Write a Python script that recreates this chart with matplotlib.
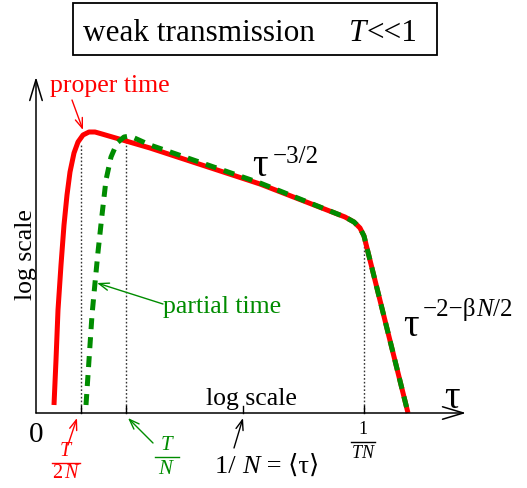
import matplotlib
matplotlib.use("Agg")
import matplotlib.pyplot as plt
from matplotlib.patches import Rectangle

plt.rcParams['font.family'] = ['Liberation Serif', 'DejaVu Serif']
plt.rcParams['mathtext.fontset'] = 'custom'
plt.rcParams['mathtext.rm'] = 'Liberation Serif'
plt.rcParams['mathtext.it'] = 'Liberation Serif:italic'
plt.rcParams['mathtext.bf'] = 'Liberation Serif:bold'

# ---- schematic data (log tau, log P) in drawing units, origin at axes corner ----
proper_x = [18, 20, 22, 25, 28, 31, 34, 38, 42, 47, 53, 59, 66, 114, 224, 309, 318, 324, 328, 372]
proper_y = [8, 53, 103, 148, 188, 218, 241, 260, 271, 278, 281, 281, 279, 265, 229, 196, 191, 185, 177, 0]

partial_x = [50, 53, 56, 59, 62, 66, 70, 75, 81, 88, 94, 114, 224, 309, 318, 324, 328, 372]
partial_y = [8, 53, 98, 130, 161, 198, 233, 256, 270, 276, 277, 268, 230, 196, 191, 185, 177, 0]

# characteristic times on the log-tau axis and the curve height there
tick_names = ['T/2N', 'T/N', '1/N', '1/TN']
tick_pos = [45, 90, 207, 328]
guide_top = [270, 275, None, 175]

RED = '#ff0000'
GREEN = '#008c00'

fig = plt.figure(figsize=(5.27, 4.88), dpi=100)
ax = fig.add_axes([0, 0, 1, 1])
ax.set_xlim(-36, 491)
ax.set_ylim(-75, 413)
ax.axis('off')
renderer = fig.canvas.get_renderer()


def seq(x, y, pieces, fs, color='black'):
    """Place text pieces one after another on a common baseline."""
    cur = x
    for s, style in pieces:
        t = ax.text(cur, y, s, fontsize=fs, style=style, ha='left', va='baseline', color=color)
        bb = t.get_window_extent(renderer)
        cur = ax.transData.inverted().transform((bb.x1, bb.y0))[0]


# title box
ax.add_patch(Rectangle((37, 358), 364, 52, fill=False, lw=1.3, ec='black'))
ax.text(47, 372, 'weak transmission', fontsize=22.5, ha='left', va='baseline')
seq(313, 372, [('T', 'italic'), ('<<1', 'normal')], 22.5)

# axes with arrows
arr_axis = dict(arrowstyle='->,head_length=1.0,head_width=0.3', lw=1.1, color='black',
                shrinkA=0, shrinkB=0, mutation_scale=15)
ax.annotate('', xy=(430, 0), xytext=(0, 0), arrowprops=arr_axis)
ax.annotate('', xy=(0, 336), xytext=(0, 0), arrowprops=arr_axis)

# guide lines and ticks
for p, top in zip(tick_pos, guide_top):
    if top is not None:
        ax.plot([p, p], [0, top], color='#333333', lw=1.0, ls=(0, (1.2, 1.5)))
    ax.plot([p, p], [0, 7], color='black', lw=1.0)

# curves
ax.plot(proper_x, proper_y, color=RED, lw=3.6, solid_joinstyle='round', solid_capstyle='butt')
ax.plot(partial_x, partial_y, color=GREEN, lw=3.6, ls=(0, (2.2, 1.6)), dash_capstyle='butt')

# axis labels
ax.text(215, 8, 'log scale', fontsize=18.5, ha='center', va='baseline')
ax.text(-10, 158, 'log scale', fontsize=18.5, ha='center', va='center', rotation=90)
ax.text(416, 15, 'τ', fontsize=28, ha='center', va='center')
ax.text(0, -22, '0', fontsize=21, ha='center', va='center')

# power laws
ax.text(224, 246, 'τ', fontsize=28, ha='center', va='center')
seq(237, 250, [('−3/2', 'normal')], 18)
ax.text(375, 86, 'τ', fontsize=28, ha='center', va='center')
seq(387, 97, [('−2−β', 'normal'), ('N', 'italic'), ('/2', 'normal')], 18)

# curve names
small_arrow = lambda c: dict(arrowstyle='->,head_length=0.6,head_width=0.22', lw=1.0, color=c,
                             shrinkA=0, shrinkB=0, mutation_scale=12)
ax.text(14, 321, 'proper time', fontsize=18.5, color=RED, ha='left', va='baseline')
ax.annotate('', xy=(47, 283), xytext=(36, 313), arrowprops=small_arrow(RED))
ax.text(127, 100, 'partial time', fontsize=18.5, color=GREEN, ha='left', va='baseline')
ax.annotate('', xy=(61, 130), xytext=(127, 109), arrowprops=small_arrow(GREEN))


# tick labels (fractions)
def frac(xc, num, den, ynum, yline, yden, half, color, fs):
    ax.text(xc, ynum, num, fontsize=fs, color=color, ha='center', va='center')
    ax.plot([xc - half, xc + half], [yline, yline], color=color, lw=1.0)
    ax.text(xc, yden, den, fontsize=fs, color=color, ha='center', va='center')


frac(30, r'$T$', r'$\mathrm{2\,}N$', -38, -50, -61, 14, RED, 14.5)
ax.annotate('', xy=(41, -5), xytext=(32, -32), arrowprops=small_arrow(RED))
frac(131, r'$T$', r'$N$', -32, -44, -57, 12, GREEN, 15)
ax.annotate('', xy=(92, -5), xytext=(117, -30), arrowprops=small_arrow(GREEN))
frac(327, '1', r'$TN$', -16, -29, -40, 12, 'black', 13)
seq(179, -60, [('1/ ', 'normal'), ('N', 'italic'), (' = ⟨τ⟩', 'normal')], 19)
ax.annotate('', xy=(207, -5), xytext=(198, -35), arrowprops=small_arrow('black'))

fig.savefig('out.png', dpi=100)
